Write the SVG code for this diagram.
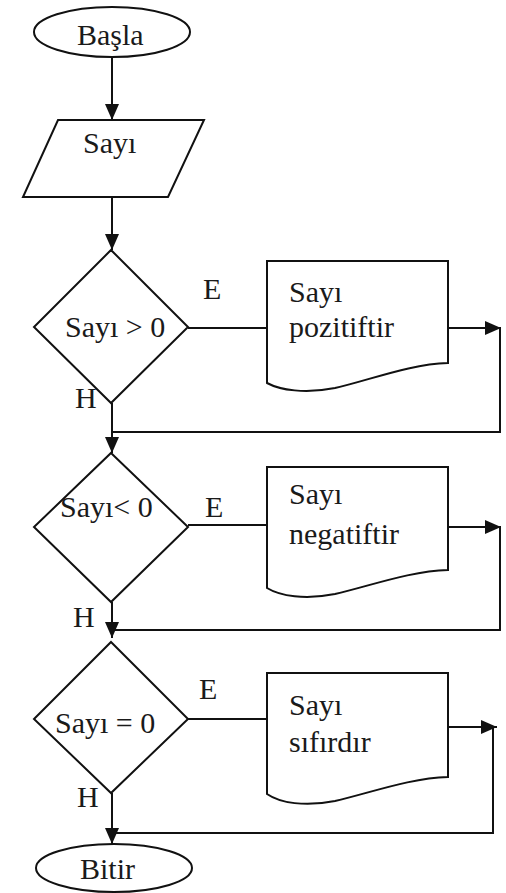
<svg xmlns="http://www.w3.org/2000/svg" width="506" height="893" viewBox="0 0 506 893">
  <style>
    .shape { fill: #ffffff; stroke: #111111; stroke-width: 2; }
    .line { fill: none; stroke: #111111; stroke-width: 2; }
    .arrow { marker-end: url(#head); }
    text { font-family: "Liberation Serif", "Times New Roman", serif; font-size: 30px; fill: #1a1a1a; }
  </style>
  <defs>
    <marker id="head" markerUnits="userSpaceOnUse" markerWidth="16" markerHeight="14" refX="16" refY="7" orient="auto">
      <path d="M0,0 L16,7 L0,14 z" fill="#111111"/>
    </marker>
  </defs>
  <rect width="506" height="893" fill="#ffffff"/>

  <g id="connectors">
    <line class="line arrow" x1="112" y1="57" x2="112" y2="120"/>
    <line class="line arrow" x1="112" y1="197" x2="112" y2="250"/>
    <line class="line" x1="188" y1="328" x2="267" y2="328"/>
    <line class="line arrow" x1="448" y1="328" x2="501" y2="328"/>
    <path class="line" d="M500,328 V432 H112"/>
    <line class="line arrow" x1="112" y1="403" x2="112" y2="453"/>
    <line class="line" x1="188" y1="525" x2="267" y2="525"/>
    <line class="line arrow" x1="448" y1="527" x2="501" y2="527"/>
    <path class="line" d="M500,527 V630 H112"/>
    <line class="line arrow" x1="112" y1="602" x2="112" y2="638"/>
    <line class="line" x1="188" y1="719" x2="267" y2="719"/>
    <line class="line arrow" x1="448" y1="727" x2="497" y2="727"/>
    <path class="line" d="M493,727 V833 H112"/>
    <line class="line arrow" x1="112" y1="793" x2="112" y2="844"/>
  </g>

  <g id="start">
    <ellipse class="shape" cx="112" cy="32" rx="78" ry="25"/>
    <text x="77" y="45">Başla</text>
  </g>

  <g id="input">
    <polygon class="shape" points="58,120 204,120 168,197 23,197"/>
    <text x="83" y="153">Sayı</text>
  </g>

  <g id="check-positive">
    <polygon class="shape" points="111,250 188,327 111,403 34,327"/>
    <text x="65" y="337">Sayı &gt; 0</text>
    <text x="203" y="299">E</text>
    <text x="75" y="408">H</text>
  </g>

  <g id="print-positive">
    <path class="shape" d="M267,261 H448 V363 C410,364 370,380 335,388 C305,394 280,390 267,383 Z"/>
    <text x="289" y="302">Sayı</text>
    <text x="289" y="337">pozitiftir</text>
  </g>

  <g id="check-negative">
    <polygon class="shape" points="111,453 188,527 111,602 34,527"/>
    <text x="60" y="517">Sayı&lt; 0</text>
    <text x="205" y="517">E</text>
    <text x="73" y="627">H</text>
  </g>

  <g id="print-negative">
    <path class="shape" d="M267,467 H448 V570 C410,571 370,586 335,594 C305,600 280,596 267,588 Z"/>
    <text x="289" y="504">Sayı</text>
    <text x="289" y="544">negatiftir</text>
  </g>

  <g id="check-zero">
    <polygon class="shape" points="111,642 188,719 111,793 34,719"/>
    <text x="55" y="733">Sayı = 0</text>
    <text x="199" y="699">E</text>
    <text x="77" y="807">H</text>
  </g>

  <g id="print-zero">
    <path class="shape" d="M267,673 H448 V777 C410,778 370,793 335,801 C305,807 280,803 267,794 Z"/>
    <text x="289" y="715">Sayı</text>
    <text x="289" y="752">sıfırdır</text>
  </g>

  <g id="end">
    <ellipse class="shape" cx="114" cy="868" rx="78" ry="24"/>
    <text x="80" y="879">Bitir</text>
  </g>
</svg>
